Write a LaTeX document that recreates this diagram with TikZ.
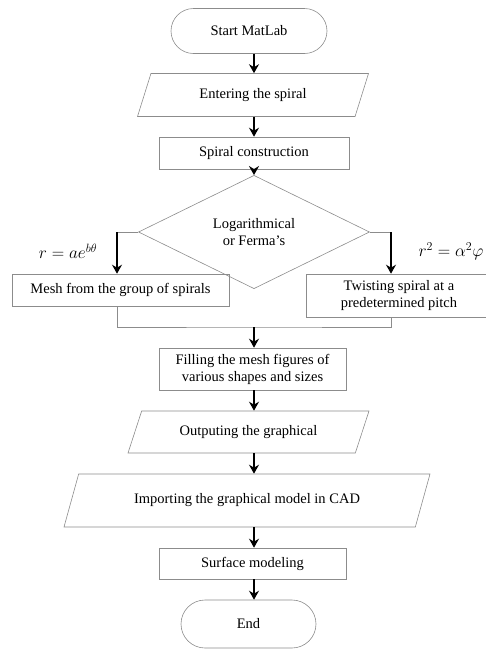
\documentclass[tikz,border=0pt]{standalone}
\usepackage{fontspec}
\setmainfont{Liberation Serif}
\usetikzlibrary{shapes.geometric,shapes.misc,arrows.meta}

\begin{document}
\begin{tikzpicture}[x=1pt,y=-1pt,
    font=\fontsize{14.5}{17}\selectfont,
    box/.style={draw=black!45, line width=0.6pt, align=center, inner sep=1pt},
    term/.style={box, rounded rectangle},
    io/.style={box, trapezium, trapezium stretches body},
    dec/.style={box, diamond},
    arr/.style={-{Stealth[length=9pt,width=10pt,inset=3pt]}, line width=1.5pt},
    link/.style={draw=black!45, line width=0.6pt},
    eq/.style={font=\fontsize{17}{20}\selectfont}]
    \useasboundingbox (0,0) rectangle (486,649);
    \clip (0,0) rectangle (486,649);
    %blocks
    \node[term, minimum width=158pt, minimum height=45pt] (start) at (249,31) {Start MatLab};
    \node[io, trapezium left angle=48.5, trapezium right angle=131.5, minimum width=231pt, minimum height=43pt] (enter) at (253,95) {Entering the spiral};
    \node[box, minimum width=190pt, minimum height=32pt] (build) at (254,153) {Spiral construction};
    \node[dec, minimum width=231pt, minimum height=83pt] (choice) at (254,232) {Logarithmical\\or Ferma's};
    \node[box, minimum width=217pt, minimum height=32pt] (mesh) at (120.5,290) {Mesh from the group of spirals};
    \node[box, minimum width=186pt, minimum height=43pt] (twist) at (399,295.5) {Twisting spiral at a\\predetermined pitch};
    \node[box, minimum width=187pt, minimum height=42pt] (fill) at (252.5,369) {Filling the mesh figures of\\various shapes and sizes};
    \node[io, trapezium left angle=48, trapezium right angle=132, minimum width=241pt, minimum height=42pt] (output) at (248.5,432) {Outputing the graphical};
    \node[io, trapezium left angle=46, trapezium right angle=134, minimum width=366pt, minimum height=53pt] (import) at (247,500.5) {Importing the graphical model in CAD};
    \node[box, minimum width=187pt, minimum height=31pt] (surf) at (252.5,563.5) {Surface modeling};
    \node[term, minimum width=137pt, minimum height=48pt] (end) at (248.5,624) {End};
    %formulas
    \node[eq] (eqlog) at (68,251) {$r = ae^{b\theta}$};
    \node[eq, anchor=west] (eqfer) at (415,251) {$r^2 = \alpha^2\varphi$};
    %lines
    \coordinate (ax) at (254,0);
    \coordinate (lturn) at (117,232);
    \coordinate (rturn) at (391,232);
    \coordinate (join) at (254,327);
    \draw[arr] (start.south -| ax) -- (enter.north -| ax);
    \draw[arr] (enter.south -| ax) -- (build.north -| ax);
    \draw[arr] (build.south -| ax) -- (choice.north);
    \draw[link] (choice.west) -- (lturn);
    \draw[arr] (lturn) -- (lturn |- mesh.north);
    \draw[link] (choice.east) -- (rturn);
    \draw[arr] (rturn) -- (rturn |- twist.north);
    \draw[link] (mesh.south -| lturn) |- (join) -| (twist.south -| rturn);
    \draw[arr] (join) -- (fill.north -| ax);
    \draw[arr] (fill.south -| ax) -- (output.north -| ax);
    \draw[arr] (output.south -| ax) -- (import.north -| ax);
    \draw[arr] (import.south -| ax) -- (surf.north -| ax);
    \draw[arr] (surf.south -| ax) -- (end.north -| ax);
\end{tikzpicture}
\end{document}
